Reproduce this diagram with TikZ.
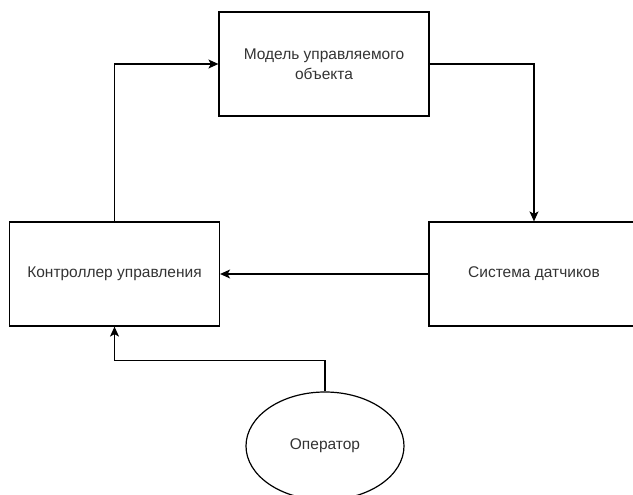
\documentclass[tikz,border=0pt]{standalone}
\usepackage{fontspec}
\setmainfont{Liberation Sans}
\usetikzlibrary{arrows.meta,positioning,shapes.geometric}
\definecolor{txtgrey}{RGB}{51,51,51}
\tikzset{
  blk/.style={rectangle, draw=black, line width=1.2pt, minimum width=210pt,
              minimum height=104pt, inner sep=0pt, align=center, text=txtgrey,
              font=\fontsize{15.5}{19.5}\selectfont},
  oval/.style={ellipse, draw=black, line width=1.2pt, minimum width=158pt,
               minimum height=108pt, inner sep=0pt, text=txtgrey,
               font=\fontsize{15.5}{19.5}\selectfont},
  flow/.style={-{Stealth[length=10pt, width=9pt, inset=2.5pt]}, line width=1.2pt},
}
\begin{document}
\begin{tikzpicture}[x=1pt, y=-1pt]
  \useasboundingbox (0,0) rectangle (633,495);
  \clip (0,0) rectangle (633,495);

  \node[blk] (model)   at (324,64)  {Модель управляемого\\объекта};
  \node[blk] (ctrl)    at (114.5,274) {Контроллер управления};
  \node[blk] (sensors) at (534,274) {Система датчиков};
  \node[oval] (oper)   at (325,446) {Оператор};

  \draw[flow] (ctrl.north) |- (model.west);
  \draw[flow] (model.east) -| (sensors.north);
  \draw[flow] (sensors.west) -- (ctrl.east);
  \draw[flow] (oper.north) -- ++(0,-31) -| (ctrl.south);
\end{tikzpicture}
\end{document}
